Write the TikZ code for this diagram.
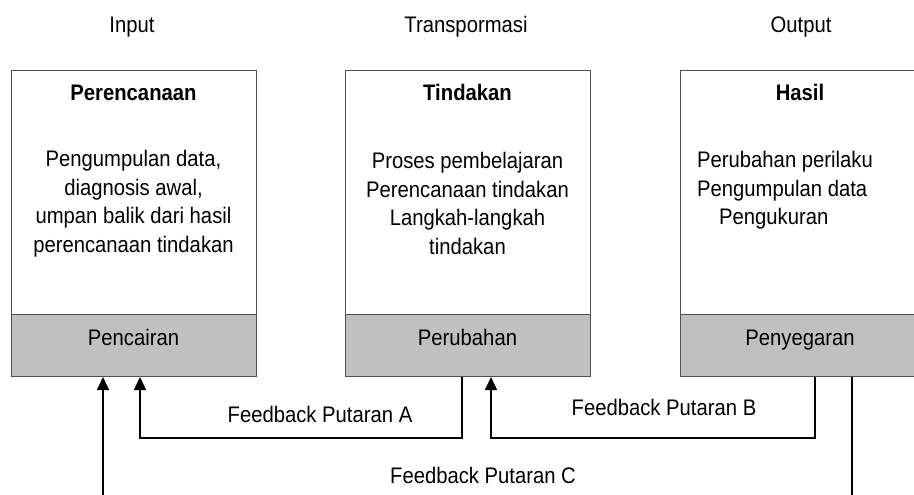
\documentclass[tikz,border=0pt]{standalone}
\usepackage{fontspec}
\setmainfont{Liberation Sans}[FakeStretch=0.9]
\usetikzlibrary{arrows.meta}
\definecolor{boxline}{RGB}{80,80,80}
\definecolor{boxfill}{RGB}{192,192,192}
\tikzset{
  boxtop/.style={draw=boxline, line width=1pt, fill=white, minimum width=245pt, minimum height=244pt, anchor=north west, inner sep=0pt},
  boxbot/.style={draw=boxline, line width=1pt, fill=boxfill, minimum width=245pt, minimum height=62pt, anchor=north west, inner sep=0pt},
  lbl/.style={inner sep=0pt, yshift=-4.5pt, text height=1.6ex, text depth=0.45ex, font=\fontsize{22.5}{28.5}\selectfont},
  ttl/.style={lbl, font=\fontsize{22.5}{28.5}\selectfont\bfseries},
  body/.style={inner sep=0pt, align=center, font=\fontsize{22.5}{28.5}\selectfont},
  conn/.style={draw=black, line width=1.4pt},
  arr/.style={conn, -{Triangle[width=12pt,length=13pt]}}
}
\begin{document}
\begin{tikzpicture}[x=1pt, y=-1pt]
\useasboundingbox (0,0) rectangle (914,495);
\clip (0,0) rectangle (914,495);
\fill[white] (0,0) rectangle (914,495);

% column headings
\node[lbl] (hin) at (132,25) {Input};
\node[lbl] (htr) at (466,25) {Transpormasi};
\node[lbl] (hout) at (801,25) {Output};

% boxes
\node[boxtop] (p1) at (11,70) {};
\node[boxbot] (q1) at (11,314) {};
\node[boxtop] (p2) at (345,70) {};
\node[boxbot] (q2) at (345,314) {};
\node[boxtop] (p3) at (680,70) {};
\node[boxbot] (q3) at (680,314) {};

% box 1
\node[ttl] (t1) at (133.5,93) {Perencanaan};
\node[body] (d1) at (133.5,203.5) {Pengumpulan data,\\diagnosis awal,\\umpan balik dari hasil\\perencanaan tindakan};
\node[lbl] (g1) at (133.5,338) {Pencairan};

% box 2
\node[ttl] (t2) at (467.5,93) {Tindakan};
\node[body] (d2) at (467.5,203.5) {Proses pembelajaran\\Perencanaan tindakan\\Langkah-langkah\\tindakan};
\node[lbl] (g2) at (467.5,338) {Perubahan};

% box 3
\node[ttl] (t3) at (800,93) {Hasil};
\node[lbl, anchor=west] (d3a) at (697,160) {Perubahan perilaku};
\node[lbl, anchor=west] (d3b) at (697,188.5) {Pengumpulan data};
\node[lbl, anchor=west] (d3c) at (719,217) {Pengukuran};
\node[lbl] (g3) at (800,338) {Penyegaran};

% feedback loops
\draw[arr] ([xshift=117pt]q2.south west) -- ++(0,61) -| ([xshift=129pt]q1.south west);
\draw[arr] ([xshift=135pt]q3.south west) -- ++(0,61) -| ([xshift=146pt]q2.south west);
\draw[arr] ([xshift=172pt]q3.south west) -- ++(0,140) -| ([xshift=92pt]q1.south west);

\node[lbl] (fa) at (320,415) {Feedback Putaran A};
\node[lbl] (fb) at (664,408) {Feedback Putaran B};
\node[lbl] (fc) at (483,476) {Feedback Putaran C};
\end{tikzpicture}
\end{document}
